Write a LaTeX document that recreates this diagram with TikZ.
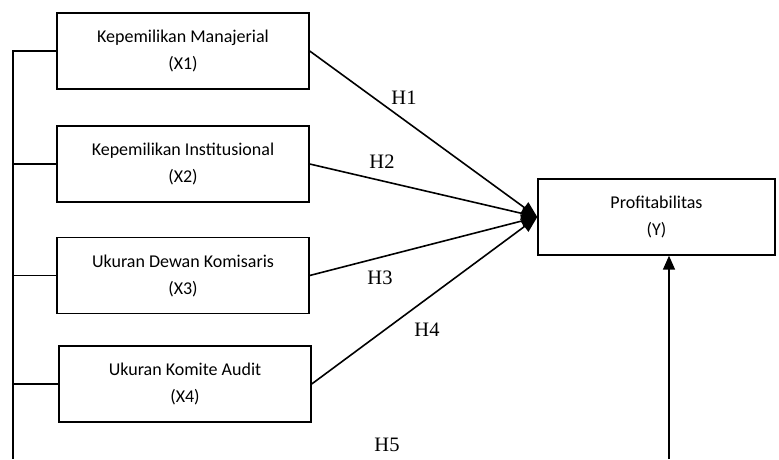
\documentclass[tikz,border=0pt]{standalone}
\usepackage{fontspec}
\setmainfont{Liberation Serif}
\newfontfamily\boxfont{Carlito}
\usetikzlibrary{arrows.meta}

\begin{document}
\begin{tikzpicture}[x=1pt,y=-1pt,
  var/.style={draw,line width=1.4pt,minimum height=76pt,align=center,inner sep=0pt,
    font=\boxfont\fontsize{18}{27}\selectfont},
  link/.style={line width=1.6pt},
  tip/.style={-{Triangle[length=16pt,width=13pt]}},
  hyp/.style={font=\fontsize{20.5}{24}\selectfont}]
\useasboundingbox (0,0) rectangle (779,459);
\def\bx{13} % bus line
% independent variables
\foreach \n/\cx/\cy/\txt in {1/183/51/Kepemilikan Manajerial,
  2/183/164/Kepemilikan Institusional,
  3/183/275.5/Ukuran Dewan Komisaris,
  4/185/384/Ukuran Komite Audit} {
	\node[var,minimum width=252pt] (x\n) at (\cx,\cy) {\txt\\(X\n)};
}
% dependent variable
\node[var,minimum width=237pt] (y) at (656.5,217) {Profitabilitas\\(Y)};

\coordinate (busend) at (\bx,459);
\coordinate (ybase) at (669,459);
\draw[link] (x1.west) -- (x1.west -| busend) -- (busend);
\foreach \n in {2,3,4} {
	\draw[link] (x\n.west) -- (x\n.west -| busend);
}
\foreach \n in {1,...,4} {
	\draw[link,tip] (x\n.east) -- (y.west);
}
\draw[link,-{Triangle[length=14pt,width=12pt]}] (ybase) -- (ybase |- y.south);

% hypotheses
\node[hyp] (h1) at (404,98) {H1};
\node[hyp] (h2) at (382,162) {H2};
\node[hyp] (h3) at (380,278) {H3};
\node[hyp] (h4) at (427,330) {H4};
\node[hyp] (h5) at (387,445) {H5};
\end{tikzpicture}
\end{document}
